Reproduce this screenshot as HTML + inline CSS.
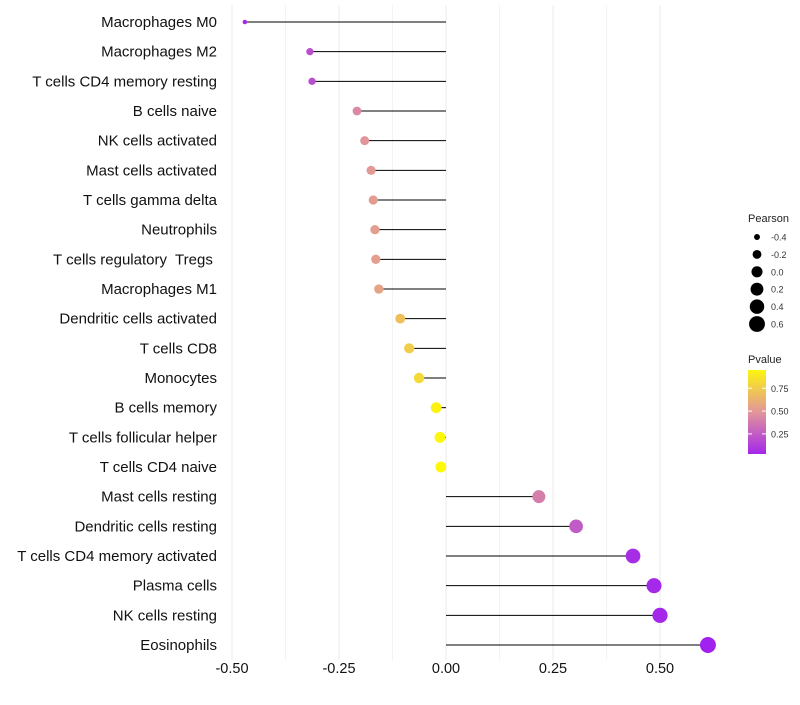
<!DOCTYPE html>
<html><head><meta charset="utf-8"><style>
body{margin:0;background:#fff;font-family:"Liberation Sans",sans-serif}
text{white-space:pre}
</style></head><body>
<svg id="c" width="800" height="700" xmlns="http://www.w3.org/2000/svg" font-family="Liberation Sans, sans-serif"></svg>
<script>
const categories=["Macrophages M0","Macrophages M2","T cells CD4 memory resting","B cells naive","NK cells activated","Mast cells activated","T cells gamma delta","Neutrophils","T cells regulatory  Tregs ","Macrophages M1","Dendritic cells activated","T cells CD8","Monocytes","B cells memory","T cells follicular helper","T cells CD4 naive","Mast cells resting","Dendritic cells resting","T cells CD4 memory activated","Plasma cells","NK cells resting","Eosinophils"];
const pearson=[-0.47,-0.318,-0.313,-0.208,-0.19,-0.175,-0.17,-0.166,-0.164,-0.157,-0.107,-0.086,-0.063,-0.023,-0.014,-0.012,0.217,0.304,0.437,0.486,0.5,0.612];
const pvalue=[0.03,0.2,0.2,0.45,0.5,0.52,0.53,0.54,0.54,0.56,0.7,0.76,0.82,0.94,0.96,0.97,0.4,0.25,0.06,0.04,0.035,0.01];
const xTicks=[-0.5,-0.25,0,0.25,0.5];
const xTickLabels=["-0.50","-0.25","0.00","0.25","0.50"];
const sizeLegend=[-0.4,-0.2,0.0,0.2,0.4,0.6];
const pLegend=[0.25,0.5,0.75];

const svg=document.getElementById('c');const NS='http://www.w3.org/2000/svg';
function mk(t,a,p){const e=document.createElementNS(NS,t);for(const k in a)e.setAttribute(k,a[k]);(p||svg).appendChild(e);return e;}
const xs=v=>446+v*428;
const ys=i=>22+i*(623/21);
const rs=v=>Math.sqrt(5+(v+0.47)/1.07*58);
function col(p){const st=[[0,[160,32,240]],[0.5,[226,150,154]],[1,[255,255,0]]];
 let a=st[0],b=st[1];if(p>0.5){a=st[1];b=st[2];}const t=(p-a[0])/(b[0]-a[0]);
 const c=a[1].map((x,i)=>Math.round(x+(b[1][i]-x)*t));return `rgb(${c})`;}
for(let v=-0.5;v<=0.6001;v+=0.125){const g=mk('line',{x1:xs(v),x2:xs(v),y1:5,y2:660,stroke:'#ebebeb','stroke-width':Math.abs(v*4-Math.round(v*4))<1e-6?1:0.6});
}
xTicks.forEach((v,i)=>{const t=mk('text',{x:xs(v),y:673,'text-anchor':'middle','font-size':14.5,fill:'#111'});t.textContent=xTickLabels[i];
});
categories.forEach((c,i)=>{const y=ys(i);
 const t=mk('text',{x:217,y:y+5,'text-anchor':'end','font-size':15,fill:'#111'});t.textContent=c;
 
 const l=mk('line',{x1:xs(0),x2:xs(pearson[i]),y1:y,y2:y,stroke:'#000','stroke-width':1});
 
 const p=mk('circle',{cx:xs(pearson[i]),cy:y,r:rs(pearson[i]),fill:col(pvalue[i])});
 });
let t=mk('text',{x:748,y:222,'font-size':11,fill:'#222'});t.textContent='Pearson';

sizeLegend.forEach((v,i)=>{const y=237+i*17.4;
 const c=mk('circle',{cx:757,cy:y,r:rs(v),fill:'#000'});
 const tt=mk('text',{x:771,y:y+3.5,'font-size':9,fill:'#333'});tt.textContent=v.toFixed(1);
 });
t=mk('text',{x:748,y:363,'font-size':11,fill:'#222'});t.textContent='Pvalue';

const defs=mk('defs',{});const lg=mk('linearGradient',{id:'g',x1:0,y1:1,x2:0,y2:0},defs);
[[0,0.03],[0.5,0.5],[1,0.95]].forEach(([o,p])=>mk('stop',{offset:o,'stop-color':col(p)},lg));
const r=mk('rect',{x:748,y:370,width:18,height:84,fill:'url(#g)'});
const py=p=>454-(p-0.03)/(0.95-0.03)*84;
pLegend.forEach(p=>{mk('line',{x1:748,x2:752,y1:py(p),y2:py(p),stroke:'#fff'});mk('line',{x1:762,x2:766,y1:py(p),y2:py(p),stroke:'#fff'});
 const tt=mk('text',{x:771,y:py(p)+3.5,'font-size':9,fill:'#333'});tt.textContent=p.toFixed(2);
 });
</script>
</body></html>
